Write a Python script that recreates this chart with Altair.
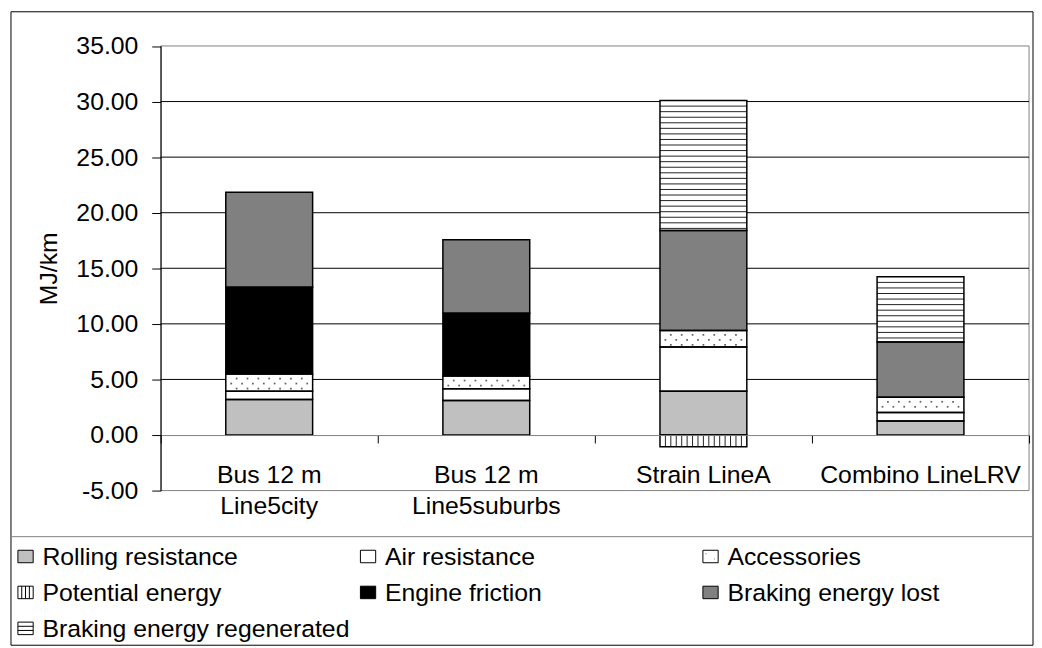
import altair as alt
import pandas as pd

# ---------------- data ----------------
categories = ["Bus 12 m Line5city", "Bus 12 m Line5suburbs", "Strain LineA", "Combino LineLRV"]
category_labels = ["Bus 12 m\nLine5city", "Bus 12 m\nLine5suburbs", "Strain LineA", "Combino LineLRV"]
components = ["Rolling resistance", "Air resistance", "Accessories", "Potential energy",
              "Engine friction", "Braking energy lost", "Braking energy regenerated"]

rolling = [3.19, 3.10, 3.93, 1.25]
air = [0.74, 1.07, 3.99, 0.78]
accessories = [1.55, 1.13, 1.49, 1.36]
potential = [0.0, 0.0, -1.05, 0.0]
engine = [7.82, 5.66, 0.0, 0.0]
braking_lost = [8.55, 6.60, 8.98, 4.98]
braking_regen = [0.0, 0.0, 11.70, 5.86]

y_ticks = [-5, 0, 5, 10, 15, 20, 25, 30, 35]
grid_values = [5, 10, 15, 20, 25, 30]

fills = ["#c0c0c0", "#ffffff", "#ffffff", "#ffffff", "#000000", "#808080", "#ffffff"]

FONT = "Liberation Sans"
FS = 25

# ---------------- tables ----------------
series = [rolling, air, accessories, potential, engine, braking_lost, braking_regen]
rows = []
for i, cat in enumerate(categories):
    pos, neg = 0.0, 0.0
    for comp, vals in zip(components, series):
        v = vals[i]
        if v == 0:
            continue
        if v > 0:
            y0, y1 = pos, pos + v
            pos += v
        else:
            y0, y1 = neg + v, neg
            neg += v
        rows.append(dict(category=cat, idx=i, component=comp,
                         x0=i + 0.3, x1=i + 0.7, y0=y0, y1=y1))
bars = pd.DataFrame(rows)

labels_df = pd.DataFrame({"label": category_labels,
                          "cx": [i + 0.5 for i in range(len(categories))],
                          "base": [0] * len(categories)})
grid_df = pd.DataFrame({"gy": grid_values, "gx0": [0] * len(grid_values),
                        "gx1": [len(categories)] * len(grid_values)})
frame_df = pd.DataFrame({"fx0": [0], "fx1": [len(categories)],
                         "fy0": [y_ticks[0]], "fy1": [y_ticks[-1]]})

# ---------------- scales / axes ----------------
W, H = 1031, 530
xs = alt.Scale(domain=[0, len(categories)], range=[151, 1027], nice=False, zero=False)
ys = alt.Scale(domain=[y_ticks[0], y_ticks[-1]], range=[483, 34.5], nice=False, zero=False)

xaxis = alt.Axis(values=[0, 1, 2, 3, 4], labels=False, title=None, grid=False,
                 offset=-103, tickSize=8, tickColor="black", domainColor="#808080",
                 domainWidth=1, orient="bottom", zindex=1)
yaxis = alt.Axis(values=y_ticks,
                 labelExpr="(datum.value < 0 ? '-' : '') + format(abs(datum.value), '.2f')",
                 offset=-151, tickSize=9, labelPadding=14,
                 labelFontSize=FS, labelFont=FONT, labelColor="black",
                 domainColor="black", tickColor="black", grid=False,
                 title="MJ/km", titleFontSize=FS, titleFontWeight="normal", titleFont=FONT,
                 titleColor="black", titleX=-105.5, titleY=258.75, titleAngle=270,
                 titleBaseline="alphabetic", titleAlign="center", zindex=1,
                 labelOverlap=False)


def X(f):
    return alt.X(f, type="quantitative", scale=xs, axis=xaxis)


def X2(f):
    return alt.X2(f)


def Y(f):
    return alt.Y(f, type="quantitative", scale=ys, axis=yaxis)


color = alt.Color("component:N", scale=alt.Scale(domain=components, range=fills), legend=None)

dummy = pd.DataFrame({"a": [0]})

outer = alt.Chart(dummy).mark_rect(fillOpacity=0, stroke="black", strokeWidth=1).encode(
    x=alt.value(0), x2=alt.value(W), y=alt.value(0), y2=alt.value(639))
separator = alt.Chart(dummy).mark_rule(color="#808080", strokeWidth=1).encode(
    x=alt.value(0), x2=alt.value(W), y=alt.value(529.5))

frame = alt.Chart(frame_df).mark_rect(fillOpacity=0, stroke="#808080", strokeWidth=1).encode(
    x=X("fx0"), x2=X2("fx1"), y=Y("fy0"), y2=alt.Y2("fy1"))

grid = alt.Chart(grid_df).mark_rule(color="black", strokeWidth=1).encode(
    x=X("gx0"), x2=X2("gx1"), y=Y("gy"))

bar_fill = alt.Chart(bars).mark_rect().encode(
    x=X("x0"), x2=X2("x1"), y=Y("y0"), y2=alt.Y2("y1"), color=color)

dots = alt.Chart(bars).transform_filter(
    "datum.component == 'Accessories'"
).transform_calculate(
    rows="sequence(datum.y1 - 0.4, datum.y0 + 0.1, -0.45)"
).transform_flatten(["rows"], as_=["ry"]).transform_calculate(
    rk="round((datum.y1 - 0.4 - datum.ry) / 0.45) % 2"
).transform_calculate(
    cols="sequence(datum.x0 + 0.05 - 0.025 * datum.rk, datum.x1 - 0.01, 0.05)"
).transform_flatten(["cols"], as_=["cx"]).mark_square(size=3, color="#606060", opacity=1).encode(
    x=X("cx"), y=Y("ry"))

hstripes = alt.Chart(bars).transform_filter(
    "datum.component == 'Braking energy regenerated'"
).transform_calculate(
    hs="sequence(datum.y1 - 0.5, datum.y0 + 0.05, -0.5)"
).transform_flatten(["hs"], as_=["hy"]).mark_rule(color="#222222", strokeWidth=1).encode(
    x=X("x0"), x2=X2("x1"), y=Y("hy"))

vstripes = alt.Chart(bars).transform_filter(
    "datum.component == 'Potential energy'"
).transform_calculate(
    vs="sequence(datum.x0 + 0.025, datum.x1 - 0.005, 0.025)"
).transform_flatten(["vs"], as_=["vx"]).mark_rule(color="#222222", strokeWidth=1).encode(
    x=X("vx"), y=Y("y0"), y2=alt.Y2("y1"))

bar_outline = alt.Chart(bars).mark_rect(fillOpacity=0, stroke="black", strokeWidth=1.5).encode(
    x=X("x0"), x2=X2("x1"), y=Y("y0"), y2=alt.Y2("y1"))

cat_text = alt.Chart(labels_df).mark_text(
    dy=48, baseline="alphabetic", align="center", lineBreak="\n", lineHeight=32,
    fontSize=FS, font=FONT, color="black"
).encode(x=X("cx"), y=Y("base"), text="label:N")

top = alt.layer(outer, separator, frame, grid, bar_fill, dots, hstripes, vstripes,
                bar_outline, cat_text).properties(width=W, height=H)

# ---------------- legend ----------------
base_path = "M-1.1,-0.9H1.1V0.9H-1.1Z"
shapes = [
    base_path,
    base_path,
    base_path + " M-0.7,-0.4h0.08 M0.5,0.35h0.08",
    base_path + " M-0.55,-0.9V0.9 M0,-0.9V0.9 M0.55,-0.9V0.9",
    base_path,
    base_path,
    base_path + " M-1.1,-0.3H1.1 M-1.1,0.3H1.1",
]
leg_df = pd.DataFrame({"component": components,
                       "col": [i % 3 for i in range(len(components))],
                       "row": [i // 3 for i in range(len(components))]})
lx = alt.Scale(domain=[0, 2], range=[14.7, 705.7], nice=False, zero=False)
ly = alt.Scale(domain=[0, 2], range=[19.5, 92], nice=False, zero=False)

leg_sym = alt.Chart(leg_df).mark_point(filled=True, size=196, stroke="black",
                                       strokeWidth=1, opacity=1).encode(
    x=alt.X("col:Q", scale=lx, axis=None),
    y=alt.Y("row:Q", scale=ly, axis=None),
    fill=alt.Fill("component:N", scale=alt.Scale(domain=components, range=fills), legend=None),
    shape=alt.Shape("component:N", scale=alt.Scale(domain=components, range=shapes), legend=None),
)
leg_text = alt.Chart(leg_df).mark_text(align="left", baseline="middle", dx=17, dy=1,
                                       fontSize=FS, font=FONT, color="black").encode(
    x=alt.X("col:Q", scale=lx, axis=None),
    y=alt.Y("row:Q", scale=ly, axis=None),
    text="component:N",
)
legend = alt.layer(leg_sym, leg_text).properties(width=W, height=109)

chart = alt.vconcat(top, legend, spacing=0, bounds="flush").properties(
    padding={"left": 2, "top": 0, "right": 0, "bottom": 0},
    background="white",
).configure_view(stroke=None)

chart.save("out.html", embed_options={"renderer": "svg", "actions": False})
